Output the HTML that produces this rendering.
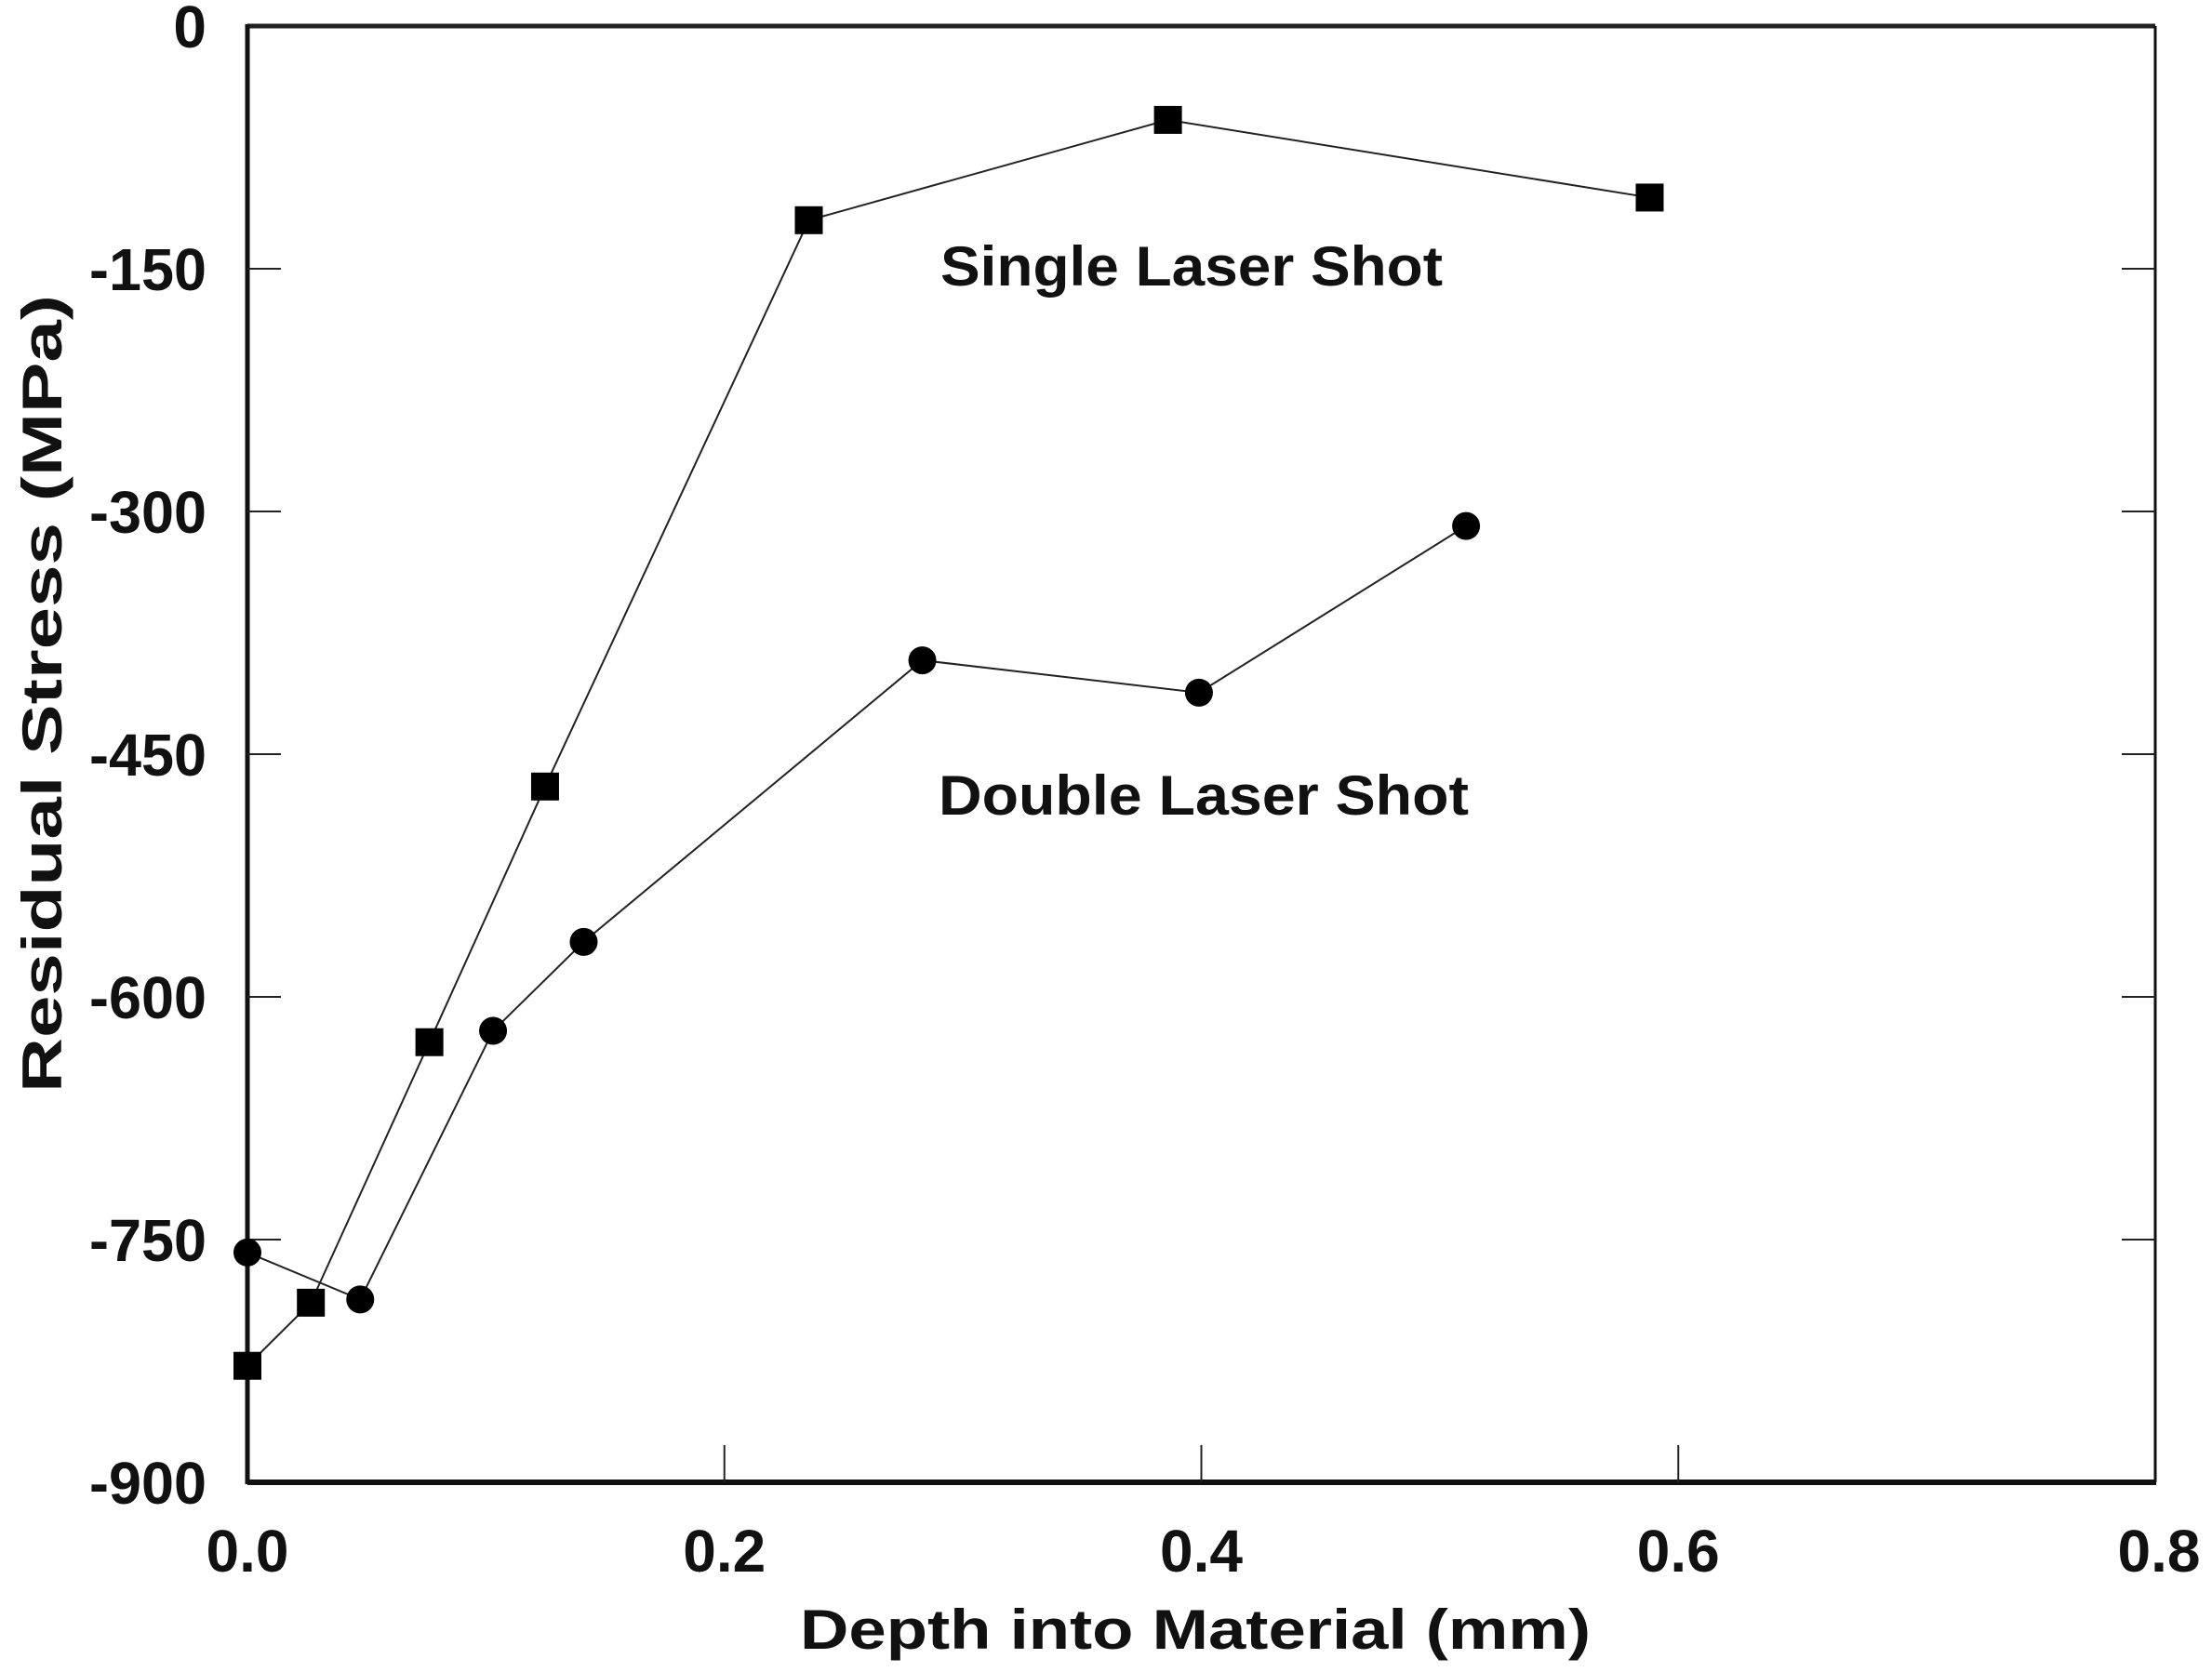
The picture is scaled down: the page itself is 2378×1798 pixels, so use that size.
<!DOCTYPE html>
<html><head><meta charset="utf-8"><style>
html,body{margin:0;padding:0;background:#fff;}
svg{display:block;}
text{font-family:"Liberation Sans",sans-serif;font-weight:bold;fill:#111;}
</style></head><body>
<svg id="chart" width="2378" height="1798" viewBox="0 0 2378 1798" xmlns="http://www.w3.org/2000/svg"></svg>
<script>
const xTicks = [0, 0.2, 0.4, 0.6, 0.8];
const xTickLabels = ["0.0", "0.2", "0.4", "0.6", "0.8"];
const yTicks = [0, -150, -300, -450, -600, -750, -900];
const yTickLabels = ["0", "-150", "-300", "-450", "-600", "-750", "-900"];
const singleX = [0, 0.0266, 0.0763, 0.1248, 0.2354, 0.386, 0.588];
const singleY = [-828, -789, -628, -470, -120, -58, -106];
const doubleX = [0, 0.0473, 0.103, 0.141, 0.283, 0.399, 0.511];
const doubleY = [-758, -787, -621, -566, -392, -412, -309];

const L = 266, R = 2317, T = 28, B = 1594;
const sx = v => L + (v - 0) / 0.8 * (R - L);
const sy = v => T + (0 - v) / 900 * (B - T);
const NS = "http://www.w3.org/2000/svg";
const svg = document.getElementById("chart");
function mk(tag, attrs, parent) {
  const e = document.createElementNS(NS, tag);
  for (const k in attrs) e.setAttribute(k, attrs[k]);
  (parent || svg).appendChild(e);
  return e;
}

const frame = mk("g", {});


mk("line", {x1: L, y1: T, x2: R, y2: T, stroke: "#222", "stroke-width": 5}, frame);
mk("line", {x1: L, y1: T - 2, x2: L, y2: B + 2, stroke: "#111", "stroke-width": 5}, frame);
mk("line", {x1: L, y1: B, x2: R + 1, y2: B, stroke: "#111", "stroke-width": 6}, frame);
mk("line", {x1: R, y1: T, x2: R, y2: B, stroke: "#111", "stroke-width": 3}, frame);

yTicks.forEach((v, i) => {
  const y = sy(v);
  if (i > 0 && i < yTicks.length - 1) {
    const t1 = mk("line", {x1: L, y1: y, x2: L + 36, y2: y, stroke: "#222", "stroke-width": 2});
    
    
    const t2 = mk("line", {x1: R - 36, y1: y, x2: R, y2: y, stroke: "#222", "stroke-width": 2});
    
    
  }
  const attrs = {x: 222, y: y + 23, "text-anchor": "end", "font-size": 64};
  if (yTickLabels[i].length === 4) { attrs.textLength = 126; attrs.lengthAdjust = "spacingAndGlyphs"; }
  const tx = mk("text", attrs);
  tx.textContent = yTickLabels[i];
  
  
});
xTicks.forEach((v, i) => {
  const x = sx(v);
  if (i > 0 && i < xTicks.length - 1) {
    const t = mk("line", {x1: x, y1: B - 40, x2: x, y2: B, stroke: "#222", "stroke-width": 2});
    
    
  }
  const tx = mk("text", {x: i === xTicks.length - 1 ? x + 4 : x, y: 1690, "text-anchor": "middle", "font-size": 64});
  tx.textContent = xTickLabels[i];
  
  
});

const xt = mk("text", {x: 1285, y: 1773, "text-anchor": "middle", "font-size": 60, textLength: 850, lengthAdjust: "spacingAndGlyphs"});
xt.textContent = "Depth into Material (mm)";


const yt = mk("text", {x: 0, y: 0, "text-anchor": "middle", "font-size": 60, textLength: 858, lengthAdjust: "spacingAndGlyphs", transform: "translate(66,746) rotate(-90)"});
yt.textContent = "Residual Stress (MPa)";



function series(xs, ys, name, marker) {
  const g = mk("g", {});
  
  
  const pts = xs.map((x, i) => sx(x) + "," + sy(ys[i])).join(" ");
  mk("polyline", {points: pts, fill: "none", stroke: "#222", "stroke-width": 2}, g);
  xs.forEach((x, i) => {
    const cx = sx(x), cy = sy(ys[i]);
    let m;
    if (marker === "square") m = mk("rect", {x: cx - 15, y: cy - 15, width: 30, height: 30, fill: "#000"}, g);
    else m = mk("circle", {cx: cx, cy: cy, r: 15, fill: "#000"}, g);
    
    
  });
}
series(doubleX, doubleY, "double-laser-series", "circle");
series(singleX, singleY, "single-laser-series", "square");

const l1 = mk("text", {x: 1281, y: 307, "text-anchor": "middle", "font-size": 60, textLength: 540, lengthAdjust: "spacingAndGlyphs"});
l1.textContent = "Single Laser Shot";


const l2 = mk("text", {x: 1294, y: 876, "text-anchor": "middle", "font-size": 60, textLength: 570, lengthAdjust: "spacingAndGlyphs"});
l2.textContent = "Double Laser Shot";


</script>
</body></html>
